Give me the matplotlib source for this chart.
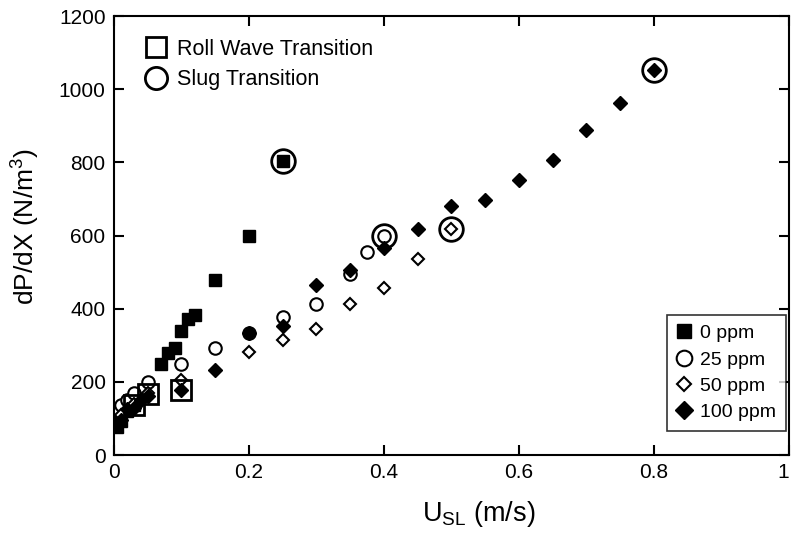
import matplotlib
matplotlib.use("Agg")
import matplotlib.pyplot as plt
from matplotlib.lines import Line2D

plt.rcParams["font.family"] = ["Liberation Sans", "DejaVu Sans"]
plt.rcParams["mathtext.default"] = "regular"

# 0 ppm (filled squares)
x0 = [0.005, 0.01, 0.02, 0.03, 0.07, 0.08, 0.09, 0.10, 0.11, 0.12, 0.15, 0.20, 0.25]
y0 = [78, 92, 122, 137, 250, 278, 293, 340, 372, 383, 480, 600, 805]

# 25 ppm (open circles)
x25 = [0.01, 0.02, 0.03, 0.05, 0.10, 0.15, 0.20, 0.25, 0.30, 0.35, 0.375, 0.40]
y25 = [138, 150, 170, 200, 248, 292, 333, 377, 412, 494, 555, 600]

# 50 ppm (open diamonds)
x50 = [0.01, 0.03, 0.05, 0.10, 0.20, 0.25, 0.30, 0.35, 0.40, 0.45, 0.50]
y50 = [110, 140, 170, 205, 282, 315, 346, 413, 457, 535, 618]

# 100 ppm (filled diamonds)
x100 = [0.01, 0.02, 0.03, 0.04, 0.05, 0.10, 0.15, 0.20, 0.25, 0.30, 0.35,
        0.40, 0.45, 0.50, 0.55, 0.60, 0.65, 0.70, 0.75, 0.80]
y100 = [95, 125, 130, 150, 163, 178, 232, 333, 352, 466, 506,
        565, 617, 682, 698, 752, 807, 888, 963, 1052]

# transitions
x_roll = [0.03, 0.05, 0.10]
y_roll = [137, 167, 178]
x_slug = [0.25, 0.40, 0.50, 0.80]
y_slug = [805, 600, 617, 1052]

xticks = [0, 0.2, 0.4, 0.6, 0.8, 1.0]
xticklabels = ["0", "0.2", "0.4", "0.6", "0.8", "1"]
yticks = [0, 200, 400, 600, 800, 1000, 1200]

fig = plt.figure(figsize=(7.91, 5.38), dpi=100)
ax = fig.add_axes([0.144, 0.154, 0.8535, 0.816])

ax.plot(x0, y0, ls="none", marker="s", ms=8.5, mfc="black", mec="black", label="0 ppm", zorder=3)
ax.plot(x25, y25, ls="none", marker="o", ms=9, mfc="white", mec="black", mew=1.5, label="25 ppm", zorder=3)
ax.plot(x50, y50, ls="none", marker="D", ms=6, mfc="white", mec="black", mew=1.5, label="50 ppm", zorder=3)
ax.plot(x100, y100, ls="none", marker="D", ms=7.5, mfc="black", mec="black", label="100 ppm", zorder=4)

ax.plot(x_roll, y_roll, ls="none", marker="s", ms=14, mfc="none", mec="black", mew=2, zorder=5)
ax.plot(x_slug, y_slug, ls="none", marker="o", ms=17, mfc="none", mec="black", mew=2, zorder=5)

ax.set_xlim(0, 1)
ax.set_ylim(0, 1200)
ax.set_xticks(xticks)
ax.set_xticklabels(xticklabels)
ax.set_yticks(yticks)
ax.tick_params(direction="in", top=True, right=True, length=7, width=1.5, labelsize=15, pad=6)
# last label sits on the figure edge, keep it inside
ax.get_xticklabels()[-1].set_ha("right")
for s in ax.spines.values():
    s.set_linewidth(1.5)

ax.set_xlabel("$U_{SL}$ (m/s)", fontsize=19.5)
ax.xaxis.set_label_coords(0.54, -0.1)
ax.set_ylabel("dP/dX (N/m$^3$)", fontsize=19)
ax.yaxis.set_label_coords(-0.106, 0.52)

leg = ax.legend(loc="lower right", fontsize=14, frameon=True, fancybox=False,
                edgecolor="black", handletextpad=0.4, borderpad=0.5,
                labelspacing=0.45, handlelength=0.8, borderaxespad=0.0,
                markerscale=1.25, bbox_to_anchor=(0.995, 0.055))
leg.get_frame().set_linewidth(1.2)

handles = [
    Line2D([], [], ls="none", marker="s", ms=14, mfc="none", mec="black", mew=2),
    Line2D([], [], ls="none", marker="o", ms=16, mfc="none", mec="black", mew=2),
]
leg2 = ax.legend(handles, ["Roll Wave Transition", "Slug Transition"], loc="upper left",
                 fontsize=15.5, frameon=False, handletextpad=0.4, labelspacing=0.45,
                 handlelength=1.2, bbox_to_anchor=(0.03, 0.968), borderaxespad=0.0)
ax.add_artist(leg)

fig.savefig("out.png", dpi=100)
